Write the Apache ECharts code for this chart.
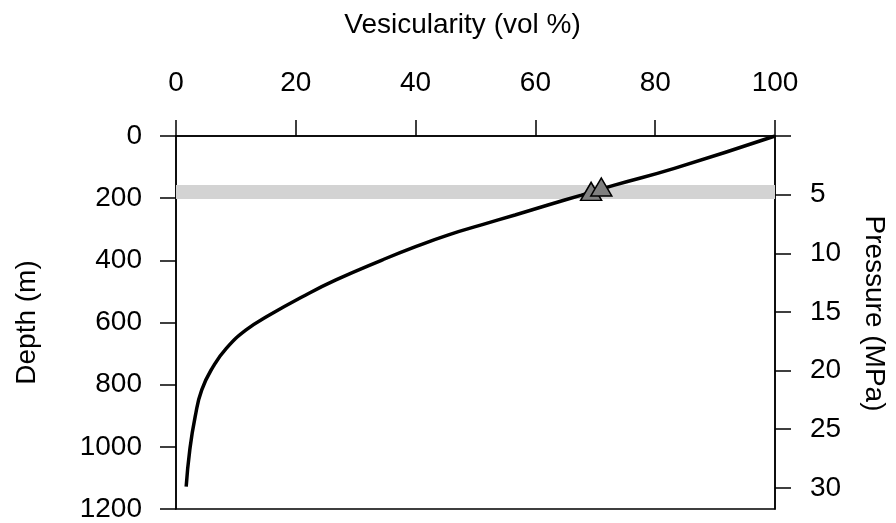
<!DOCTYPE html>
<html><head><meta charset="utf-8">
<script src="https://cdn.jsdelivr.net/npm/echarts@6/dist/echarts.min.js"></script>
<style>html,body{margin:0;padding:0;background:#fff}#c{width:896px;height:523px}</style>
</head><body><div id="c"></div>
<script>
// ---- data ----
const curveDepth = [0, 104, 158, 190, 222, 254, 286, 318, 356, 399, 463, 517, 576, 624, 683, 742, 817, 903, 1010, 1128];
const curveVesicularity = [100, 83.2, 73.2, 67.7, 62.1, 56.6, 51.0, 45.5, 40.0, 34.4, 26.7, 21.1, 15.6, 11.7, 8.4, 6.2, 4.3, 3.2, 2.3, 1.7];
const sampleVesicularity = [69.3, 71.0];
const sampleDepth = [178, 164];
const bandDepth = [158, 203];
const xTicks = [0, 20, 40, 60, 80, 100];
const depthTicks = [0, 200, 400, 600, 800, 1000, 1200];
const pressureTicks = [0, 5, 10, 15, 20, 25, 30];
const pressureLabels = [5, 10, 15, 20, 25, 30];
const pressureMax = 31.8;

const font = "'Liberation Sans', Arial, Helvetica, sans-serif";
const fs = 28;
const txt = {fontSize: fs, color: '#000', fontFamily: font};
const axisLine = {show: true, lineStyle: {color: '#000', width: 1.5}};
const tick = {show: true, inside: false, length: 16, lineStyle: {color: '#000', width: 1.5}};
const plain = v => String(v);

const chart = echarts.init(document.getElementById('c'), null, {renderer: 'canvas'});
chart.setOption({
  animation: false,
  backgroundColor: '#fff',
  grid: {left: 176, right: 118, top: 136, bottom: 14, show: true, borderColor: '#000', borderWidth: 1.5},
  xAxis: {
    type: 'value', position: 'top', min: xTicks[0], max: xTicks[xTicks.length - 1], interval: 20,
    name: 'Vesicularity (vol %)', nameLocation: 'middle', nameGap: 97,
    nameTextStyle: Object.assign({padding: [0, 26, 0, 0]}, txt),
    axisLine: axisLine, axisTick: tick,
    axisLabel: Object.assign({margin: 39, formatter: plain}, txt),
    splitLine: {show: false}
  },
  yAxis: [{
    type: 'value', position: 'left', inverse: true, min: depthTicks[0], max: depthTicks[depthTicks.length - 1], interval: 200,
    name: 'Depth (m)', nameLocation: 'middle', nameGap: 135, nameRotate: 90, nameTextStyle: txt,
    axisLine: axisLine, axisTick: tick,
    axisLabel: Object.assign({margin: 34, formatter: plain}, txt),
    splitLine: {show: false}
  }, {
    type: 'value', position: 'right', inverse: true, min: 0, max: pressureMax,
    name: 'Pressure (MPa)', nameLocation: 'middle', nameGap: 85, nameRotate: -90,
    nameTextStyle: Object.assign({padding: [0, 18, 0, 0]}, txt),
    axisLine: axisLine,
    axisTick: Object.assign({customValues: pressureTicks}, tick),
    axisLabel: Object.assign({margin: 35, customValues: pressureLabels, formatter: plain}, txt),
    splitLine: {show: false}
  }],
  series: [{
    type: 'line', xAxisIndex: 0, yAxisIndex: 0,
    data: curveDepth.map((d, i) => [curveVesicularity[i], d]),
    showSymbol: false, smooth: true, z: 3,
    lineStyle: {color: '#000', width: 3.5},
    markArea: {silent: true, itemStyle: {color: '#d3d3d3'},
      data: [[{yAxis: bandDepth[0]}, {yAxis: bandDepth[1]}]]}
  }, {
    type: 'scatter', xAxisIndex: 0, yAxisIndex: 0, z: 4,
    data: sampleDepth.map((d, i) => [sampleVesicularity[i], d]),
    symbol: 'triangle', symbolSize: [21, 18],
    itemStyle: {color: '#808080', borderColor: '#000', borderWidth: 1.5, opacity: 1}
  }]
});
</script></body></html>
